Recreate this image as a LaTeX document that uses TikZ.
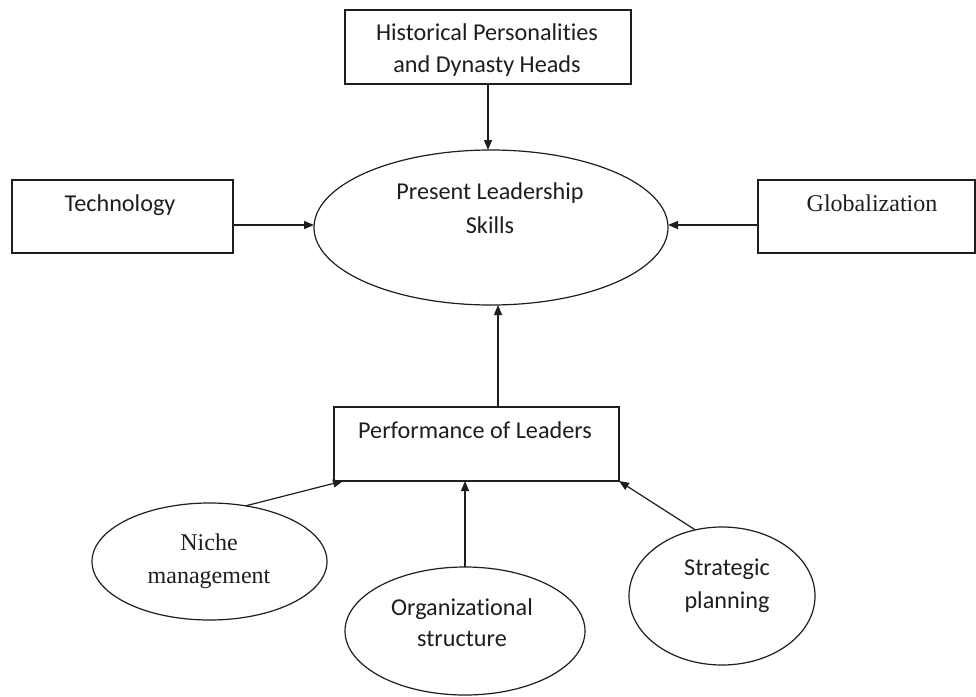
\documentclass[tikz,border=0pt]{standalone}
\usepackage{fontspec}
\setmainfont{Carlito}[Ligatures={NoCommon}]
\newfontfamily\serifA{Liberation Serif}
\usetikzlibrary{shapes.geometric,arrows.meta}
\definecolor{ink}{HTML}{1E1E1E}
\begin{document}
\begin{tikzpicture}[x=1pt,y=-1pt,
  shp/.style={draw=ink, line width=1.2pt, inner sep=0pt, outer sep=0pt},
  boxshape/.style={shp, rectangle},
  ovalshape/.style={shp, ellipse},
  txt/.style={anchor=base, align=center, inner sep=0pt, text=ink, font=\fontsize{24.2}{32}\selectfont},
  stxt/.style={txt, font=\serifA\fontsize{24}{33}\selectfont},
  arr/.style={draw=ink, line width=1.2pt, -{Triangle[length=10pt,width=8pt]}}]
\fill[white] (0,0) rectangle (976,696);
\useasboundingbox (0,0) rectangle (976,696);

% shapes
\node[boxshape, minimum width=286pt, minimum height=74pt] (hist) at (488,47) {};
\node[ovalshape, minimum width=354pt, minimum height=155pt] (pres) at (491,227.5) {};
\node[boxshape, minimum width=221pt, minimum height=73pt] (tech) at (122.5,216.5) {};
\node[boxshape, minimum width=217pt, minimum height=73pt] (glob) at (866.5,216.5) {};
\node[boxshape, minimum width=285pt, minimum height=74pt] (perf) at (476.5,444) {};
\node[ovalshape, minimum width=235pt, minimum height=117pt] (niche) at (209.5,561.5) {};
\node[ovalshape, minimum width=240pt, minimum height=128pt] (org) at (465,631) {};
\node[ovalshape, minimum width=186pt, minimum height=138pt] (strat) at (722,596) {};

% texts (anchor = baseline of last line)
\node[txt] (histT) at (487,72) {Historical Personalities\\and Dynasty Heads};
\node[txt, font=\fontsize{24.2}{34}\selectfont] (presT) at (490,233) {Present Leadership\\Skills};
\node[txt] (techT) at (120,211.5) {Technology};
\node[stxt] (globT) at (872,211.5) {Globalization};
\node[txt] (perfT) at (475,438) {Performance of Leaders};
\node[stxt] (nicheT) at (209,583) {Niche\\management};
\node[txt, font=\fontsize{24.2}{31}\selectfont] (orgT) at (462,646) {Organizational\\structure};
\node[txt, font=\fontsize{24.2}{33}\selectfont] (stratT) at (727,608) {Strategic\\planning};

% connectors
\draw[arr] (hist.south) -- (hist.south |- pres.north);
\draw[arr] ([yshift=-8.5pt]tech.east) -- ([yshift=-8.5pt]tech.east -| pres.west);
\draw[arr] ([yshift=-8.5pt]glob.west) -- ([yshift=-8.5pt]glob.west -| pres.east);
\draw[arr] ([xshift=21.5pt]perf.north) -- ([xshift=21.5pt]perf.north |- pres.south);
\draw[arr] (niche.57) -- ([xshift=9pt]perf.south west);
\draw[arr] (org.north) -- (org.north |- perf.south);
\draw[arr] (strat.112) -- (perf.south east);
\end{tikzpicture}
\end{document}
